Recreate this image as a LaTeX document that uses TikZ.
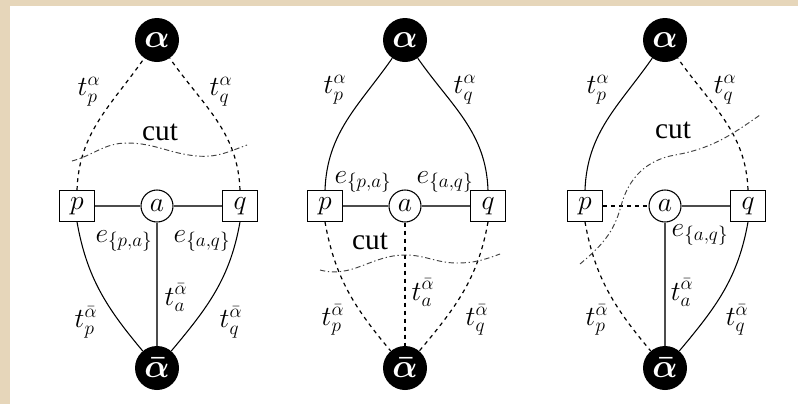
\documentclass[tikz,border=0pt]{standalone}
\usepackage{fontspec}
\setmainfont{Liberation Serif}
\definecolor{frame}{RGB}{230,214,186}

\begin{document}
\begin{tikzpicture}[x=0.75pt,y=-0.75pt,
    sink/.style={circle, fill=black, inner sep=0pt, minimum size=33pt, text=white, font=\fontsize{24}{28}\selectfont\boldmath},
    pixel/.style={draw, line width=0.8pt, fill=white, minimum width=26pt, minimum height=23pt, inner sep=0pt, font=\fontsize{22}{26}\selectfont},
    aux/.style={circle, draw, line width=0.8pt, fill=white, minimum size=24pt, inner sep=0pt, font=\fontsize{22}{26}\selectfont},
    lbl/.style={inner sep=0pt, font=\fontsize{22}{26}\selectfont},
    kept/.style={line width=0.8pt},
    nlink/.style={line width=1.2pt, black!70},
    severed/.style={line width=0.9pt, dash pattern=on 3pt off 3pt},
    cutline/.style={line width=0.7pt, black!75, dash pattern=on 4pt off 2pt on 1pt off 2pt}]

    % frame
    \fill[frame] (0,0) rectangle (798,404);
    \fill[white] (10,6) rectangle (798,404);
    \useasboundingbox (0,0) rectangle (798,404);

    % first cut
    \begin{scope}[shift={(157,0)}]
        \node[sink] (A1) at (0,40) {$\alpha$};
        \node[sink] (B1) at (0,368) {$\bar\alpha$};
        \node[pixel] (p1) at (-80,206) {$p$};
        \node[aux] (a1) at (0,206) {$a$};
        \node[pixel] (q1) at (83,206) {$q$};

        \draw
        (p1) edge[nlink] (a1)
        (a1) edge[nlink] (q1)
        (a1) edge[nlink] (B1)
        (p1.north) edge[severed, out=88, in=-125] (A1)
        (q1.north) edge[severed, out=92, in=-55] (A1)
        (p1.south) edge[kept, out=-80, in=130] (B1)
        (q1.south) edge[kept, out=-100, in=50] (B1);

        \draw[cutline] (-85,161) to[out=15,in=180] (-30,143) to[out=0,in=175] (40,156) to[out=-5,in=200] (90,145);

        \node[lbl] (tpa1) at (-68,92) {$t_p^{\alpha}$};
        \node[lbl] (tqa1) at (64,92) {$t_q^{\alpha}$};
        \node[lbl] (cut1) at (3,132) {cut};
        \node[lbl] (epa1) at (-33,241) {$e_{\{p,a\}}$};
        \node[lbl] (eaq1) at (45,241) {$e_{\{a,q\}}$};
        \node[lbl] (tab1) at (19,298) {$t_a^{\bar\alpha}$};
        \node[lbl] (tpb1) at (-71,322) {$t_p^{\bar\alpha}$};
        \node[lbl] (tqb1) at (74,322) {$t_q^{\bar\alpha}$};
    \end{scope}

    % second cut
    \begin{scope}[shift={(405,0)}]
        \node[sink] (A2) at (0,40) {$\alpha$};
        \node[sink] (B2) at (0,368) {$\bar\alpha$};
        \node[pixel] (p2) at (-80,206) {$p$};
        \node[aux] (a2) at (0,206) {$a$};
        \node[pixel] (q2) at (83,206) {$q$};

        \draw
        (p2) edge[nlink] (a2)
        (a2) edge[nlink] (q2)
        (a2) edge[severed] (B2)
        (p2.north) edge[kept, out=88, in=-125] (A2)
        (q2.north) edge[kept, out=92, in=-55] (A2)
        (p2.south) edge[severed, out=-80, in=130] (B2)
        (q2.south) edge[severed, out=-100, in=50] (B2);

        \draw[cutline] (-85,270) to[out=-15,in=180] (0,255) to[out=0,in=180] (52,263) to[out=0,in=200] (95,254);

        \node[lbl] (tpa2) at (-70,90) {$t_p^{\alpha}$};
        \node[lbl] (tqa2) at (60,90) {$t_q^{\alpha}$};
        \node[lbl] (cut2) at (-35,241) {cut};
        \node[lbl] (epa2) at (-42,182) {$e_{\{p,a\}}$};
        \node[lbl] (eaq2) at (40,182) {$e_{\{a,q\}}$};
        \node[lbl] (tab2) at (18,293) {$t_a^{\bar\alpha}$};
        \node[lbl] (tpb2) at (-72,320) {$t_p^{\bar\alpha}$};
        \node[lbl] (tqb2) at (72,320) {$t_q^{\bar\alpha}$};
    \end{scope}

    % third cut
    \begin{scope}[shift={(665,0)}]
        \node[sink] (A3) at (0,40) {$\alpha$};
        \node[sink] (B3) at (0,368) {$\bar\alpha$};
        \node[pixel] (p3) at (-80,206) {$p$};
        \node[aux] (a3) at (0,206) {$a$};
        \node[pixel] (q3) at (83,206) {$q$};

        \draw
        (p3) edge[severed] (a3)
        (a3) edge[nlink] (q3)
        (a3) edge[nlink] (B3)
        (p3.north) edge[kept, out=88, in=-125] (A3)
        (q3.north) edge[severed, out=92, in=-55] (A3)
        (p3.south) edge[severed, out=-80, in=130] (B3)
        (q3.south) edge[kept, out=-100, in=50] (B3);

        \draw[cutline] (-85,264) to[out=40,in=-105] (-44,206) to[out=75,in=190] (10,155) to[out=10,in=215] (95,115);

        \node[lbl] (tpa3) at (-67,90) {$t_p^{\alpha}$};
        \node[lbl] (tqa3) at (60,90) {$t_q^{\alpha}$};
        \node[lbl] (cut3) at (8,130) {cut};
        \node[lbl] (eaq3) at (35,235) {$e_{\{a,q\}}$};
        \node[lbl] (tab3) at (17,293) {$t_a^{\bar\alpha}$};
        \node[lbl] (tpb3) at (-68,320) {$t_p^{\bar\alpha}$};
        \node[lbl] (tqb3) at (72,320) {$t_q^{\bar\alpha}$};
    \end{scope}
\end{tikzpicture}
\end{document}
